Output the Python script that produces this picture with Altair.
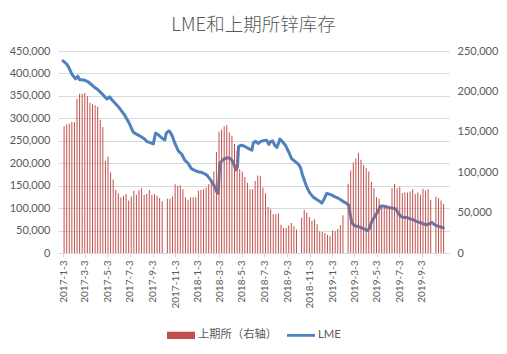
import altair as alt
import pandas as pd

TITLE = "LME和上期所锌库存"
SERIES = ["上期所（右轴）", "LME"]
RED = "#C0504D"
BLUE = "#4F81BD"

# SHFE weekly zinc stocks (thousand tonnes), Fridays; holiday weeks skipped
shfe_skip = ["2017-10-06", "2018-10-05", "2019-02-08", "2019-10-04"]
shfe_values_k = [
    # 2017
    157, 159, 160, 162, 162, 191, 197, 197, 198, 194, 186, 184, 183, 181, 165, 156,
    114, 119, 100, 91, 78, 74, 69, 71, 73, 65, 70, 77, 72, 78, 80, 72, 73, 78, 72, 73,
    71, 68, 64,
    67, 67, 70, 85, 83, 84, 79, 69, 66, 69, 69, 69,
    # 2018
    77, 78, 79, 81, 85, 89, 101, 125, 150, 153, 157, 158, 149, 145, 135, 127, 104, 101,
    94, 87, 79, 79, 89, 96, 95, 81, 74, 57, 54, 48, 48, 49, 35, 31, 31, 34, 37, 33, 29,
    43.7, 53.6, 50, 44.5, 40, 41.7, 35.5, 26.8, 26, 24.7, 22.7, 20.6,
    # 2019
    28, 27, 29.7, 34.6, 46.6,
    85.8, 102, 112, 117, 124, 115.5, 109, 105, 101, 88, 80, 69, 67, 58.6, 57, 59, 58.6,
    80, 85.8, 80, 81.7, 74, 75, 75, 76, 79, 73, 75, 72, 79.6, 77.5, 78.8, 66,
    69.5, 68, 65, 60.5,
]

# LME zinc stocks (thousand tonnes)
lme_dates = [
    "2017-01-03", "2017-01-12", "2017-01-19", "2017-01-26", "2017-02-01", "2017-02-06",
    "2017-02-12", "2017-02-17", "2017-02-24", "2017-03-02", "2017-03-11", "2017-03-20",
    "2017-03-28", "2017-04-06", "2017-04-15", "2017-04-24", "2017-05-02", "2017-05-09",
    "2017-05-16", "2017-05-25", "2017-06-02", "2017-06-11", "2017-06-20", "2017-06-29",
    "2017-07-06", "2017-07-12", "2017-07-16", "2017-07-25", "2017-08-03", "2017-08-12",
    "2017-08-19", "2017-08-27", "2017-09-05", "2017-09-07", "2017-09-11", "2017-09-18",
    "2017-09-24", "2017-10-01", "2017-10-06", "2017-10-10", "2017-10-17", "2017-10-21",
    "2017-10-27", "2017-11-03", "2017-11-12", "2017-11-21", "2017-11-29", "2017-12-08",
    "2017-12-17", "2017-12-26", "2018-01-04", "2018-01-12", "2018-01-21", "2018-01-30",
    "2018-02-08", "2018-02-17", "2018-02-24", "2018-02-28", "2018-03-04", "2018-03-11",
    "2018-03-17", "2018-03-24", "2018-03-31", "2018-04-06", "2018-04-12", "2018-04-17",
    "2018-04-21", "2018-04-24", "2018-04-30", "2018-05-07", "2018-05-16", "2018-05-23",
    "2018-05-30", "2018-06-03", "2018-06-09", "2018-06-16", "2018-06-22", "2018-06-30",
    "2018-07-09", "2018-07-15", "2018-07-20", "2018-07-25", "2018-08-01", "2018-08-06",
    "2018-08-11", "2018-08-14", "2018-08-21", "2018-08-29", "2018-09-07", "2018-09-15",
    "2018-09-24", "2018-10-03", "2018-10-09", "2018-10-15", "2018-10-21", "2018-10-27",
    "2018-11-03", "2018-11-12", "2018-11-21", "2018-11-30", "2018-12-06", "2018-12-13",
    "2018-12-19", "2018-12-26", "2019-01-02", "2019-01-08", "2019-01-17", "2019-01-25",
    "2019-02-03", "2019-02-10", "2019-02-17", "2019-02-21", "2019-02-25", "2019-03-06",
    "2019-03-15", "2019-03-24", "2019-04-01", "2019-04-08", "2019-04-14", "2019-04-19",
    "2019-04-28", "2019-05-07", "2019-05-13", "2019-05-20", "2019-05-28", "2019-06-06",
    "2019-06-15", "2019-06-24", "2019-07-01", "2019-07-07", "2019-07-16", "2019-07-25",
    "2019-08-02", "2019-08-11", "2019-08-20", "2019-08-29", "2019-09-06", "2019-09-15",
    "2019-09-24", "2019-09-30", "2019-10-07", "2019-10-16", "2019-10-25", "2019-10-31",
]
lme_values_k = [
    428, 422, 413, 400, 393, 388, 394, 386, 386, 385, 382, 376,
    370, 365, 358, 350, 343, 348, 341, 333, 326, 316, 306, 293,
    281, 270, 267, 263, 259, 254, 248, 246, 243, 252, 267, 264,
    259, 254, 252, 267, 272, 269, 259, 243, 227, 220, 207, 200,
    188, 184, 181, 180, 177, 172, 162, 150, 136, 133, 200, 206,
    210, 212, 211, 207, 196, 185, 192, 237, 240, 239, 235, 232,
    229, 245, 249, 244, 248, 250, 251, 242, 248, 250, 239, 235,
    246, 254, 248, 240, 225, 210, 204, 198, 190, 172, 158, 145,
    134, 125, 120, 115, 111, 122, 133, 131, 129, 126, 123, 119,
    114, 111, 106, 85, 67, 60, 59, 56, 53, 50, 55, 68,
    81, 93, 104, 105, 103, 101, 100, 98, 89, 82, 79, 79,
    76, 74, 70, 68, 65, 63, 65, 68, 63, 60, 58, 56,
]

left_ticks = [0, 50000, 100000, 150000, 200000, 250000, 300000, 350000, 400000, 450000]
right_ticks = [0, 50000, 100000, 150000, 200000, 250000]
x_tick_months = [(2017, m) for m in (1, 3, 5, 7, 9, 11)] + \
                [(2018, m) for m in (1, 3, 5, 7, 9, 11)] + \
                [(2019, m) for m in (1, 3, 5, 7, 9)]

fridays = pd.date_range("2017-01-06", "2019-11-01", freq="W-FRI")
fridays = [d for d in fridays if d.strftime("%Y-%m-%d") not in shfe_skip]
shfe_df = pd.DataFrame({
    "date": [d.strftime("%Y-%m-%d") for d in fridays],
    "value": [v * 1000 for v in shfe_values_k],
})
lme_df = pd.DataFrame({"date": lme_dates, "value": [v * 1000 for v in lme_values_k]})
legend_df = pd.DataFrame({"series": SERIES})

LABEL_FONT = "Lato"
TEXT_COLOR = "#595959"
GRID = "#D9D9D9"

NUM_EXPR = "datum.value == 0 ? '0' : floor(datum.value / 1000) + ',000'"
DATE_EXPR = ("utcyear(datum.value) + '-' + (utcmonth(datum.value) + 1) + '-' + "
             "utcdate(datum.value)")

x_enc = alt.X(
    "date:T",
    scale=alt.Scale(
        type="utc",
        domain=[alt.DateTime(year=2017, month=1, date=3, utc=True),
                alt.DateTime(year=2019, month=11, date=2, utc=True)],
    ),
    axis=alt.Axis(
        values=[alt.DateTime(year=y, month=m, date=3, utc=True) for y, m in x_tick_months],
        labelExpr=DATE_EXPR, labelAngle=270,
        labelFont=LABEL_FONT, labelFontSize=10, labelColor=TEXT_COLOR,
        domainColor=GRID, tickColor=GRID, tickSize=4, grid=False, title=None,
        labelPadding=3, labelOverlap=False, labelFlush=False, labelBound=False,
    ),
)

bars = alt.Chart(shfe_df).mark_bar(size=1, color=RED).encode(
    x=x_enc,
    y=alt.Y("value:Q",
            scale=alt.Scale(domain=[0, 250000], nice=False),
            axis=alt.Axis(orient="right", values=right_ticks, labelExpr=NUM_EXPR,
                          grid=False, domain=False, ticks=False, labelPadding=8,
                          title=None, labelFont=LABEL_FONT, labelFontSize=11,
                          labelColor=TEXT_COLOR)),
)

line = alt.Chart(lme_df).mark_line(color=BLUE, strokeWidth=3, strokeJoin="round",
                                   strokeCap="round").encode(
    x=x_enc,
    y=alt.Y("value:Q",
            scale=alt.Scale(domain=[0, 450000], nice=False),
            axis=alt.Axis(orient="left", values=left_ticks, labelExpr=NUM_EXPR,
                          grid=True, gridColor=GRID, domain=False, ticks=False,
                          labelPadding=8, title=None, labelFont=LABEL_FONT,
                          labelFontSize=11, labelColor=TEXT_COLOR)),
)

legend_props = dict(
    orient="none", legendX=109, legendY=270, direction="horizontal", title=None,
    labelFont="Lato, 'Noto Sans CJK SC'", labelFontSize=11.3, labelColor=TEXT_COLOR,
    symbolSize=784, symbolOpacity=1, symbolStrokeWidth=0, labelOffset=3,
    columnPadding=9,
)
legend_layer = alt.Chart(legend_df).mark_point(filled=True, opacity=0).encode(
    color=alt.Color("series:N", scale=alt.Scale(domain=SERIES, range=[RED, BLUE]),
                    legend=alt.Legend(**legend_props)),
    shape=alt.Shape("series:N",
                    scale=alt.Scale(domain=SERIES,
                                    range=["M-1,-0.26H1V0.26H-1Z", "M-1,-0.1H1V0.1H-1Z"]),
                    legend=alt.Legend(**legend_props)),
)

chart = alt.layer(line, bars, legend_layer).resolve_scale(y="independent").properties(
    width=391, height=202,
    padding={"left": 58, "top": 51, "right": 58, "bottom": 101},
    autosize=alt.AutoSizeParams(type="none"),
    title=alt.TitleParams(TITLE, font="Noto Sans CJK SC", fontSize=18.5,
                          fontWeight=300, color=TEXT_COLOR, anchor="middle",
                          offset=11),
    background="white",
).configure_view(stroke=None)

chart.save("out.html", embed_options={"renderer": "svg", "actions": False})
